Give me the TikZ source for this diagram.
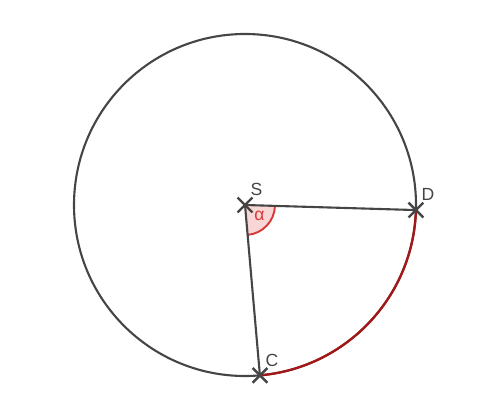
\documentclass[tikz,border=0pt]{standalone}
\usepackage{fontspec}
\setmainfont{Liberation Sans}
\usetikzlibrary{calc}
\usetikzlibrary{shapes.misc}
\definecolor{linegray}{HTML}{454545}
\definecolor{arcred}{HTML}{A51616}
\definecolor{anglered}{HTML}{D9393A}
\definecolor{anglefill}{HTML}{F9D6D6}
\begin{document}
\begin{tikzpicture}[
	line/.style={linegray,line width=1.2pt},
	punkt/.style={cross out,draw=linegray,line width=1.4pt,minimum size=7pt,inner sep=0pt},
	marke/.style={linegray,font=\fontsize{10}{11}\selectfont}
	]
	\useasboundingbox (0,0) rectangle (10,8);
	\coordinate (S) at (4.9,3.9);
	\coordinate (D) at ($(S)+(-1.7:3.42)$);
	\coordinate (C) at ($(S)+(-85:3.42)$);
	% Winkel alpha
	\fill[anglefill] (S) -- ($(S)+(-85:0.6)$) arc[start angle=-85,end angle=-1.7,radius=0.6] -- cycle;
	\draw[anglered,line width=1.1pt] ($(S)+(-85:0.6)$) arc[start angle=-85,end angle=-1.7,radius=0.6];
	\node[anglered,font=\fontsize{10}{11}\selectfont] (a) at ($(S)+(-36:0.36)$) {α};
	% Kreis und Radien
	\draw[line] (S) circle[radius=3.42];
	\draw[arcred,line width=1.3pt] (C) arc[start angle=-85,end angle=-1.7,radius=3.42];
	\node[punkt] (s) at (S) {};
	\node[punkt] (d) at (D) {};
	\node[punkt] (c) at (C) {};
	\draw[line] (s.center) -- (d.center);
	\draw[line] (s.center) -- (c.center);
	\node[marke,anchor=south west,inner sep=1pt] at (S) [xshift=2pt,yshift=4pt] {S};
	\node[marke,anchor=south west,inner sep=1pt] at (D) [xshift=2pt,yshift=4pt] {D};
	\node[marke,anchor=south west,inner sep=1pt] at (C) [xshift=2pt,yshift=4pt] {C};
\end{tikzpicture}
\end{document}
